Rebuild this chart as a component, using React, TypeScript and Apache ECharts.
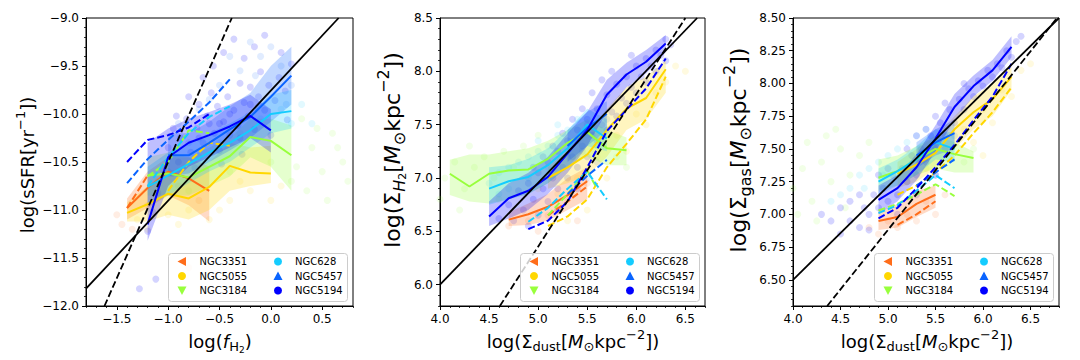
import React, { useEffect, useRef } from "react";
import * as echarts from "echarts";

const FONT = "DejaVu Sans";
const GALAXIES = ["NGC3351", "NGC5055", "NGC3184", "NGC628", "NGC5457", "NGC5194"];
const COLORS = ["#ff6d1a", "#ffd700", "#98ff3c", "#14ccff", "#0a64ff", "#0000ff"];
const MARKERS = ["left", "circle", "down", "circle", "up", "circle"];

// ---------- Panel A : log(sSFR) vs log(f_H2) ----------
const A_X_TICKS = [-1.5, -1.0, -0.5, 0.0, 0.5];
const A_Y_TICKS = [-12.0, -11.5, -11.0, -10.5, -10.0, -9.5, -9.0];

const A_3351_SOLID = [[-1.4, -10.98], [-1.2, -10.77], [-1.0, -10.6], [-0.8, -10.67], [-0.6, -10.8]];
const A_5055_SOLID = [[-1.4, -11.03], [-1.2, -10.94], [-1.0, -10.83], [-0.8, -10.88], [-0.6, -10.76], [-0.4, -10.54], [-0.2, -10.61], [0.0, -10.62]];
const A_3184_SOLID = [[-1.2, -10.64], [-1.0, -10.62], [-0.8, -10.66], [-0.6, -10.55], [-0.4, -10.44], [-0.2, -10.24], [0.0, -10.28], [0.2, -10.43]];
const A_628_SOLID = [[-1.2, -10.76], [-1.0, -10.64], [-0.8, -10.52], [-0.6, -10.4], [-0.4, -10.3], [-0.2, -10.17], [0.0, -10.0], [0.2, -9.97]];
const A_5457_SOLID = [[-1.0, -10.43], [-0.8, -10.43], [-0.6, -10.3], [-0.4, -10.16], [-0.2, -10.03], [0.0, -9.82], [0.2, -9.6]];
const A_5194_SOLID = [[-1.2, -11.15], [-1.0, -10.45], [-0.8, -10.3], [-0.6, -10.22], [-0.4, -10.13], [-0.2, -10.02], [0.0, -10.17]];

const A_3351_DASH = [[-1.4, -10.98], [-1.2, -10.64]];
const A_5055_DASH = [[-1.0, -10.8], [-0.8, -10.5], [-0.6, -10.3], [-0.4, -10.33]];
const A_3184_DASH = [[-1.2, -10.65], [-1.0, -10.5], [-0.8, -10.17], [-0.6, -10.2]];
const A_628_DASH = [[-1.2, -10.75], [-1.0, -10.45], [-0.8, -10.2], [-0.6, -10.03], [-0.4, -9.92]];
const A_5457_DASH = [[-1.4, -10.72], [-1.2, -10.47], [-1.0, -10.27], [-0.8, -10.08], [-0.6, -9.88], [-0.4, -9.64]];
const A_5194_DASH = [[-1.4, -10.5], [-1.2, -10.27], [-1.0, -10.22], [-0.8, -10.14], [-0.6, -10.0]];

// [x, low, high]
const A_3351_BAND = [[-1.4, -11.1, -10.88], [-1.2, -10.98, -10.6], [-1.0, -10.85, -10.45], [-0.8, -10.95, -10.45], [-0.6, -11.12, -10.55]];
const A_5055_BAND = [[-1.4, -11.12, -10.92], [-1.2, -11.12, -10.75], [-1.0, -11.05, -10.6], [-0.8, -11.1, -10.65], [-0.6, -11.0, -10.5], [-0.4, -10.8, -10.3], [-0.2, -10.75, -10.35], [0.0, -10.72, -10.33]];
const A_3184_BAND = [[-1.2, -10.85, -10.45], [-1.0, -10.85, -10.4], [-0.8, -10.85, -10.45], [-0.6, -10.75, -10.35], [-0.4, -10.65, -10.25], [-0.2, -10.45, -10.05], [0.0, -10.55, -10.05], [0.2, -10.8, -10.12]];
const A_628_BAND = [[-1.2, -10.95, -10.55], [-1.0, -10.85, -10.4], [-0.8, -10.72, -10.3], [-0.6, -10.6, -10.2], [-0.4, -10.5, -10.1], [-0.2, -10.35, -9.98], [0.0, -10.2, -9.8], [0.2, -10.15, -9.75]];
const A_5457_BAND = [[-1.0, -10.65, -10.2], [-0.8, -10.62, -10.2], [-0.6, -10.5, -10.08], [-0.4, -10.38, -9.92], [-0.2, -10.25, -9.78], [0.0, -10.08, -9.5], [0.2, -9.9, -9.3]];
const A_5194_BAND = [[-1.2, -11.32, -10.3], [-1.0, -10.75, -10.15], [-0.8, -10.55, -10.05], [-0.6, -10.45, -9.98], [-0.4, -10.35, -9.9], [-0.2, -10.25, -9.8], [0.0, -10.4, -9.95]];

const A_3351_PTS = [[-1.5, -11.05], [-1.35, -11.2], [-1.2, -10.95], [-0.8, -11.6], [-1.45, -11.15], [-1.1, -10.85], [-0.9, -10.75], [-0.7, -10.9]];
const A_5055_PTS = [[-1.3, -11.1], [-1.0, -11.05], [-0.8, -11.0], [-0.6, -11.1], [-0.4, -10.9], [-0.2, -10.8], [0.1, -10.75], [-1.2, -11.2], [-0.9, -11.15], [-0.5, -11.0], [-0.3, -10.7], [0.0, -10.9]];
const A_3184_PTS = [[0.3, -10.05], [0.4, -10.35], [0.5, -10.6], [0.6, -10.2], [0.7, -10.5], [0.35, -10.8], [0.55, -10.9], [0.75, -10.7], [0.25, -10.55], [0.45, -10.15], [0.65, -10.35], [-0.8, -10.8], [-0.4, -10.6], [0.0, -10.5], [0.2, -10.7]];
const A_628_PTS = [[-1.1, -10.7], [-0.9, -10.6], [-0.7, -10.45], [-0.5, -10.3], [-0.3, -10.2], [-0.1, -10.05], [0.1, -9.95], [0.2, -10.1], [0.3, -9.9], [0.4, -10.1]];
const A_5457_PTS = [[-0.9, -10.1], [-0.7, -9.95], [-0.5, -9.7], [-0.3, -9.55], [-0.1, -9.4], [0.1, -9.5], [0.2, -9.7], [-0.4, -9.4], [-0.2, -9.25], [0.0, -9.3], [-0.6, -9.85], [-0.8, -10.3], [-1.0, -10.6], [0.15, -9.9], [-0.15, -9.6]];
const A_5194_PTS = [[-1.0, -10.35], [-0.95, -10.15], [-0.9, -10.5], [-0.88, -10.25], [-0.82, -10.05], [-0.78, -10.4], [-0.72, -10.15], [-0.7, -9.9], [-0.66, -10.3], [-0.62, -10.02], [-0.58, -9.78], [-0.55, -10.2], [-0.52, -9.92], [-0.5, -10.38], [-0.46, -10.08], [-0.42, -9.82], [-0.4, -10.22], [-0.36, -9.96], [-0.32, -10.12], [-0.3, -9.68], [-0.26, -9.88], [-0.22, -10.02], [-0.2, -9.72], [-0.16, -10.16], [-0.12, -9.82], [-0.1, -9.56], [-0.06, -9.96], [-0.02, -9.7], [0.04, -9.86], [0.08, -9.62], [0.14, -9.76], [0.2, -9.48], [-0.56, -9.5], [-0.46, -9.36], [-0.36, -9.22], [-0.26, -9.42], [-0.16, -9.3], [-0.06, -9.18], [0.1, -9.36], [-0.66, -9.62], [-0.8, -9.82], [-0.92, -10.02], [-1.05, -10.58], [-1.1, -10.82], [-1.15, -11.02], [-1.2, -11.22], [-0.96, -10.62], [-0.74, -10.56], [-0.48, -10.52], [-0.28, -10.42], [0.0, -10.22], [0.16, -10.06], [-1.28, -11.82], [-1.12, -11.72], [-0.6, -10.1], [-0.4, -10.0], [-0.2, -9.9], [-0.7, -10.25], [-0.5, -10.1], [-0.3, -10.25]];

const A_FIT_SOLID = [[-1.8, -11.82], [0.66, -9.0]];
const A_FIT_DASH = [[-1.62, -12.0], [-0.38, -9.0]];

// ---------- Panel B : log(Sigma_H2) vs log(Sigma_dust) ----------
const B_X_TICKS = [4.0, 4.5, 5.0, 5.5, 6.0, 6.5];
const B_Y_TICKS = [6.0, 6.5, 7.0, 7.5, 8.0, 8.5];

const B_3351_SOLID = [[4.7, 6.61], [4.9, 6.66], [5.1, 6.73], [5.3, 6.84], [5.5, 6.97]];
const B_5055_SOLID = [[5.1, 7.0], [5.3, 7.1], [5.5, 7.22], [5.7, 7.45], [5.9, 7.65], [6.1, 7.75], [6.3, 8.02]];
const B_3184_SOLID = [[4.1, 7.04], [4.3, 6.92], [4.5, 7.04], [4.7, 7.07], [4.9, 7.08], [5.1, 7.18], [5.3, 7.33], [5.5, 7.43], [5.7, 7.28], [5.9, 7.26]];
const B_628_SOLID = [[4.5, 6.9], [4.7, 6.97], [4.9, 7.01], [5.1, 7.12], [5.3, 7.28], [5.5, 7.5], [5.7, 7.37]];
const B_5457_SOLID = [[5.3, 7.3], [5.5, 7.47], [5.7, 7.6]];
const B_5194_SOLID = [[4.5, 6.64], [4.7, 6.81], [4.9, 6.88], [5.1, 7.01], [5.3, 7.23], [5.5, 7.45], [5.7, 7.78], [5.9, 7.97], [6.1, 8.09], [6.3, 8.26]];

const B_3351_DASH = [[5.1, 6.65], [5.3, 6.78], [5.5, 6.92]];
const B_5055_DASH = [[5.1, 6.55], [5.3, 6.64], [5.5, 6.8], [5.7, 7.1], [5.9, 7.32], [6.1, 7.55], [6.3, 7.95]];
const B_3184_DASH = [[5.1, 6.65], [5.3, 6.85], [5.5, 7.07], [5.6, 6.9]];
const B_628_DASH = [[4.9, 6.59], [5.1, 6.72], [5.3, 6.9], [5.5, 7.06], [5.7, 6.8]];
const B_5457_DASH = [[5.3, 6.85], [5.5, 7.02], [5.7, 7.17]];
const B_5194_DASH = [[4.9, 6.52], [5.1, 6.6], [5.3, 6.78], [5.5, 7.1], [5.7, 7.44], [5.9, 7.64], [6.1, 7.84], [6.3, 8.12]];

const B_3351_BAND = [[4.7, 6.55, 6.68], [4.9, 6.56, 6.76], [5.1, 6.6, 6.85], [5.3, 6.7, 7.0], [5.5, 6.8, 7.1]];
const B_5055_BAND = [[5.1, 6.9, 7.1], [5.3, 6.95, 7.25], [5.5, 7.02, 7.42], [5.7, 7.2, 7.65], [5.9, 7.45, 7.85], [6.1, 7.55, 7.95], [6.3, 7.8, 8.1]];
const B_3184_BAND = [[4.1, 6.84, 7.17], [4.3, 6.78, 7.22], [4.5, 6.76, 7.22], [4.7, 6.8, 7.25], [4.9, 6.85, 7.28], [5.1, 6.95, 7.35], [5.3, 7.1, 7.45], [5.5, 7.2, 7.55], [5.7, 7.12, 7.45], [5.9, 7.12, 7.38]];
const B_628_BAND = [[4.5, 6.75, 7.1], [4.7, 6.8, 7.12], [4.9, 6.85, 7.18], [5.1, 6.95, 7.28], [5.3, 7.1, 7.45], [5.5, 7.3, 7.65], [5.7, 7.25, 7.55]];
const B_5457_BAND = [[5.3, 7.15, 7.45], [5.5, 7.3, 7.62], [5.7, 7.45, 7.72]];
const B_5194_BAND = [[4.5, 6.55, 6.78], [4.7, 6.62, 6.95], [4.9, 6.7, 7.05], [5.1, 6.85, 7.2], [5.3, 7.05, 7.42], [5.5, 7.3, 7.62], [5.7, 7.62, 7.92], [5.9, 7.85, 8.08], [6.1, 7.98, 8.2], [6.3, 8.18, 8.34]];

const B_3351_PTS = [[4.7, 6.55], [4.9, 6.6], [5.1, 6.65], [5.3, 6.8], [5.5, 6.95], [5.0, 6.5], [5.2, 6.7], [5.4, 6.6]];
const B_5055_PTS = [[5.0, 6.9], [5.2, 6.85], [5.4, 7.0], [5.6, 7.2], [5.8, 7.4], [6.0, 7.6], [6.2, 7.8], [6.3, 7.9], [5.7, 7.0], [5.9, 7.25], [6.1, 7.5], [6.4, 8.05], [5.5, 6.7], [6.5, 8.0], [5.3, 6.6]];
const B_3184_PTS = [[4.05, 7.0], [4.15, 7.15], [4.25, 6.9], [4.35, 7.1], [4.45, 7.2], [4.55, 7.0], [4.65, 7.25], [4.75, 7.1], [4.85, 7.3], [4.0, 6.8], [4.3, 7.3], [4.6, 6.8], [5.0, 7.4], [5.6, 7.3], [5.8, 7.2], [4.2, 6.7], [5.9, 7.1]];
const B_628_PTS = [[4.5, 6.95], [4.6, 7.05], [4.7, 7.1], [4.8, 7.15], [4.9, 7.2], [5.0, 7.25], [5.1, 7.3], [5.2, 7.4], [5.3, 7.45], [5.4, 7.55], [4.7, 6.9], [4.9, 7.0], [5.1, 7.1], [5.3, 7.25], [5.5, 7.4], [4.6, 6.85], [5.0, 7.35], [5.2, 7.5]];
const B_5457_PTS = [[5.3, 7.2], [5.4, 7.35], [5.5, 7.5], [5.6, 7.4], [5.7, 7.55], [5.5, 7.0], [5.6, 7.15], [5.45, 7.25]];
const B_5194_PTS = [[4.6, 6.62], [4.7, 6.75], [4.75, 6.6], [4.8, 6.88], [4.85, 6.7], [4.9, 6.95], [4.95, 6.8], [5.0, 7.05], [5.0, 6.65], [5.05, 6.9], [5.1, 7.15], [5.1, 6.78], [5.15, 7.0], [5.2, 7.25], [5.2, 6.9], [5.25, 7.1], [5.3, 7.35], [5.3, 7.0], [5.35, 7.2], [5.4, 7.45], [5.4, 7.1], [5.45, 7.3], [5.5, 7.55], [5.5, 7.2], [5.55, 7.4], [5.6, 7.65], [5.6, 7.35], [5.65, 7.5], [5.7, 7.78], [5.7, 7.45], [5.75, 7.62], [5.8, 7.88], [5.8, 7.58], [5.85, 7.75], [5.9, 7.95], [5.9, 7.7], [5.95, 7.85], [6.0, 8.05], [6.0, 7.8], [6.05, 7.95], [6.1, 8.12], [6.1, 7.9], [6.15, 8.05], [6.2, 8.2], [6.2, 8.0], [6.25, 8.15], [6.3, 8.3], [6.3, 8.1], [5.45, 7.65], [5.55, 7.8], [5.65, 7.92], [5.35, 7.55], [5.25, 7.42], [5.15, 7.3], [5.05, 7.2], [4.95, 7.1], [5.75, 8.0], [5.95, 8.15], [6.35, 8.25], [4.9, 6.55], [5.2, 6.7], [5.4, 6.9]];

const B_FIT_SOLID = [[4.0, 6.0], [6.62, 8.5]];
const B_FIT_DASH = [[4.61, 5.8], [6.5, 8.5]];

// ---------- Panel C : log(Sigma_gas) vs log(Sigma_dust) ----------
const C_X_TICKS = [4.0, 4.5, 5.0, 5.5, 6.0, 6.5];
const C_Y_TICKS = [6.5, 6.75, 7.0, 7.25, 7.5, 7.75, 8.0, 8.25, 8.5];

const C_3351_SOLID = [[4.9, 6.95], [5.1, 6.98], [5.3, 7.08], [5.5, 7.15]];
const C_5055_SOLID = [[5.1, 7.31], [5.3, 7.38], [5.5, 7.47], [5.7, 7.65], [5.9, 7.78], [6.1, 7.88], [6.3, 8.05]];
const C_3184_SOLID = [[4.9, 7.28], [5.1, 7.33], [5.3, 7.42], [5.5, 7.5], [5.7, 7.46], [5.9, 7.43]];
const C_628_SOLID = [[4.9, 7.25], [5.1, 7.33], [5.3, 7.42], [5.5, 7.55], [5.7, 7.5]];
const C_5457_SOLID = [[5.3, 7.45], [5.5, 7.55], [5.7, 7.62]];
const C_5194_SOLID = [[4.9, 7.11], [5.1, 7.2], [5.3, 7.36], [5.5, 7.58], [5.7, 7.82], [5.9, 7.98], [6.1, 8.1], [6.3, 8.28]];

const C_3351_DASH = [[5.1, 6.92], [5.3, 7.0], [5.5, 7.1]];
const C_5055_DASH = [[5.1, 7.15], [5.3, 7.22], [5.5, 7.32], [5.7, 7.45], [5.9, 7.62], [6.1, 7.78], [6.3, 7.97]];
const C_3184_DASH = [[4.9, 7.03], [5.1, 7.08], [5.3, 7.15], [5.5, 7.23], [5.7, 7.14]];
const C_628_DASH = [[4.9, 7.01], [5.1, 7.07], [5.3, 7.18], [5.5, 7.3], [5.7, 7.2]];
const C_5457_DASH = [[5.3, 7.22], [5.5, 7.32], [5.7, 7.42]];
const C_5194_DASH = [[4.9, 6.97], [5.1, 7.05], [5.3, 7.2], [5.5, 7.36], [5.7, 7.53], [5.9, 7.72], [6.1, 7.9], [6.3, 8.15]];

const C_3351_BAND = [[4.9, 6.88, 7.02], [5.1, 6.9, 7.08], [5.3, 6.98, 7.18], [5.5, 7.05, 7.22]];
const C_5055_BAND = [[5.1, 7.2, 7.4], [5.3, 7.25, 7.5], [5.5, 7.35, 7.6], [5.7, 7.5, 7.75], [5.9, 7.65, 7.9], [6.1, 7.75, 8.0], [6.3, 7.95, 8.15]];
const C_3184_BAND = [[4.9, 7.18, 7.42], [5.1, 7.22, 7.45], [5.3, 7.3, 7.52], [5.5, 7.35, 7.6], [5.7, 7.32, 7.55], [5.9, 7.32, 7.48]];
const C_628_BAND = [[4.9, 7.15, 7.35], [5.1, 7.22, 7.42], [5.3, 7.3, 7.52], [5.5, 7.42, 7.65], [5.7, 7.4, 7.62]];
const C_5457_BAND = [[5.3, 7.35, 7.55], [5.5, 7.45, 7.65], [5.7, 7.5, 7.72]];
const C_5194_BAND = [[4.9, 7.0, 7.22], [5.1, 7.1, 7.3], [5.3, 7.26, 7.46], [5.5, 7.48, 7.68], [5.7, 7.72, 7.92], [5.9, 7.9, 8.06], [6.1, 8.02, 8.18], [6.3, 8.2, 8.36]];

const C_3351_PTS = [[4.8, 6.9], [5.0, 6.95], [5.2, 7.0], [5.4, 7.1], [5.6, 7.15], [4.9, 6.85], [5.1, 6.9], [5.3, 6.95], [5.5, 7.0]];
const C_5055_PTS = [[5.2, 7.25], [5.4, 7.35], [5.6, 7.5], [5.8, 7.65], [6.0, 7.8], [6.2, 7.95], [6.4, 8.1], [5.9, 7.55], [6.1, 7.7], [6.3, 7.9], [6.5, 8.15], [6.0, 7.45]];
const C_3184_PTS = [[4.0, 7.2], [4.1, 7.35], [4.2, 7.1], [4.3, 7.4], [4.4, 7.25], [4.5, 7.5], [4.6, 7.3], [4.7, 7.45], [4.15, 7.55], [4.35, 7.6], [4.05, 7.0], [4.25, 6.95], [4.45, 7.65], [4.55, 7.05], [4.8, 7.55], [5.8, 7.4], [5.9, 7.5]];
const C_628_PTS = [[4.6, 7.2], [4.7, 7.3], [4.8, 7.35], [4.9, 7.4], [5.0, 7.45], [5.1, 7.5], [5.2, 7.55], [5.3, 7.6], [4.5, 7.15], [4.4, 7.1], [5.4, 7.65], [4.75, 7.2], [4.95, 7.3]];
const C_5457_PTS = [[5.3, 7.35], [5.4, 7.45], [5.5, 7.55], [5.6, 7.5], [5.7, 7.6], [5.5, 7.3]];
const C_5194_PTS = [[4.5, 6.85], [4.6, 6.95], [4.7, 6.9], [4.75, 7.05], [4.8, 7.0], [4.85, 7.15], [4.9, 7.05], [4.95, 7.2], [5.0, 7.1], [5.05, 7.3], [5.1, 7.15], [5.15, 7.35], [5.2, 7.25], [5.25, 7.45], [5.3, 7.3], [5.35, 7.5], [5.4, 7.4], [5.45, 7.6], [5.5, 7.5], [5.55, 7.7], [5.6, 7.6], [5.65, 7.8], [5.7, 7.7], [5.75, 7.88], [5.8, 7.8], [5.85, 7.96], [5.9, 7.9], [5.95, 8.02], [6.0, 7.98], [6.05, 8.1], [6.1, 8.05], [6.15, 8.15], [6.2, 8.12], [6.25, 8.25], [6.3, 8.2], [6.35, 8.32], [6.4, 8.36], [5.0, 7.35], [5.2, 7.5], [5.4, 7.65], [5.6, 7.85], [5.8, 8.0], [5.3, 7.6], [5.5, 7.75], [4.9, 7.3], [4.7, 7.15], [4.6, 7.1], [4.4, 6.95], [4.8, 6.88], [5.1, 7.0], [5.3, 7.15], [5.5, 7.3], [4.5, 7.05], [4.3, 7.0]];

const C_FIT_SOLID = [[4.0, 6.5], [6.8, 8.5]];
const C_FIT_DASH = [[4.36, 6.3], [6.78, 8.5]];

// ---------- layout ----------
const PANELS = [
  {
    grid: { left: 86, top: 18, width: 267, height: 288 },
    x: [-1.8, 0.8], y: [-12.0, -9.0], xStep: 0.1, yStep: 0.1, xDec: 1, yDec: 1,
    xTicks: A_X_TICKS, yTicks: A_Y_TICKS,
    solid: [A_3351_SOLID, A_5055_SOLID, A_3184_SOLID, A_628_SOLID, A_5457_SOLID, A_5194_SOLID],
    dash: [A_3351_DASH, A_5055_DASH, A_3184_DASH, A_628_DASH, A_5457_DASH, A_5194_DASH],
    band: [A_3351_BAND, A_5055_BAND, A_3184_BAND, A_628_BAND, A_5457_BAND, A_5194_BAND],
    pts: [A_3351_PTS, A_5055_PTS, A_3184_PTS, A_628_PTS, A_5457_PTS, A_5194_PTS],
    fitSolid: A_FIT_SOLID, fitDash: A_FIT_DASH,
  },
  {
    grid: { left: 440, top: 18, width: 265, height: 288 },
    x: [4.0, 6.7], y: [5.8, 8.5], xStep: 0.1, yStep: 0.1, xDec: 1, yDec: 1,
    xTicks: B_X_TICKS, yTicks: B_Y_TICKS,
    solid: [B_3351_SOLID, B_5055_SOLID, B_3184_SOLID, B_628_SOLID, B_5457_SOLID, B_5194_SOLID],
    dash: [B_3351_DASH, B_5055_DASH, B_3184_DASH, B_628_DASH, B_5457_DASH, B_5194_DASH],
    band: [B_3351_BAND, B_5055_BAND, B_3184_BAND, B_628_BAND, B_5457_BAND, B_5194_BAND],
    pts: [B_3351_PTS, B_5055_PTS, B_3184_PTS, B_628_PTS, B_5457_PTS, B_5194_PTS],
    fitSolid: B_FIT_SOLID, fitDash: B_FIT_DASH,
  },
  {
    grid: { left: 793, top: 18, width: 266, height: 288 },
    x: [4.0, 6.8], y: [6.3, 8.5], xStep: 0.1, yStep: 0.05, xDec: 1, yDec: 2,
    xTicks: C_X_TICKS, yTicks: C_Y_TICKS,
    solid: [C_3351_SOLID, C_5055_SOLID, C_3184_SOLID, C_628_SOLID, C_5457_SOLID, C_5194_SOLID],
    dash: [C_3351_DASH, C_5055_DASH, C_3184_DASH, C_628_DASH, C_5457_DASH, C_5194_DASH],
    band: [C_3351_BAND, C_5055_BAND, C_3184_BAND, C_628_BAND, C_5457_BAND, C_5194_BAND],
    pts: [C_3351_PTS, C_5055_PTS, C_3184_PTS, C_628_PTS, C_5457_PTS, C_5194_PTS],
    fitSolid: C_FIT_SOLID, fitDash: C_FIT_DASH,
  },
];

function fmt(dec: number) {
  return (v: number) => (v < -1e-9 ? "\u2212" : "") + Math.abs(v).toFixed(dec);
}

function steps(min: number, max: number, step: number) {
  const out: number[] = [];
  const n = Math.round((max - min) / step);
  for (let i = 0; i <= n; i++) out.push(+(min + i * step).toFixed(4));
  return out;
}

function mainAxis(dim: "x" | "y", g: number, range: number[], ticks: number[], dec: number) {
  return {
    type: "value",
    gridIndex: g,
    min: range[0],
    max: range[1],
    position: dim === "x" ? "bottom" : "left",
    axisLine: { show: true, onZero: false, lineStyle: { color: "#000", width: 1 } },
    axisTick: { show: true, inside: false, length: 4, lineStyle: { color: "#000", width: 1 }, customValues: ticks },
    axisLabel: {
      show: true, customValues: ticks, formatter: fmt(dec), color: "#000",
      fontSize: 12, fontFamily: FONT, margin: 7, showMinLabel: true, showMaxLabel: true,
    },
    splitLine: { show: false },
  };
}

function minorAxis(dim: "x" | "y", g: number, range: number[], step: number) {
  return {
    type: "value",
    gridIndex: g,
    min: range[0],
    max: range[1],
    position: dim === "x" ? "bottom" : "left",
    axisLine: { show: false, onZero: false },
    axisTick: { show: true, inside: false, length: 2, lineStyle: { color: "#000", width: 0.8 }, customValues: steps(range[0], range[1], step) },
    axisLabel: { show: false },
    splitLine: { show: false },
  };
}

function bandSeries(g: number, data: number[][], color: string) {
  return {
    type: "custom",
    xAxisIndex: 2 * g,
    yAxisIndex: 2 * g,
    data,
    silent: true,
    z: 3,
    encode: { x: 0, y: [1, 2] },
    renderItem: (params: any, api: any) => {
      if (params.dataIndexInside !== 0) return null;
      const n = params.dataInsideLength;
      const top: number[][] = [];
      const bot: number[][] = [];
      for (let i = 0; i < n; i++) {
        const x = api.value(0, i);
        top.push(api.coord([x, api.value(2, i)]));
        bot.push(api.coord([x, api.value(1, i)]));
      }
      return {
        type: "polygon",
        shape: { points: top.concat(bot.reverse()) },
        style: { fill: echarts.color.modifyAlpha(color, 0.25), stroke: "none" },
      };
    },
  };
}

function lineSeries(g: number, data: number[][], color: string, dashed: boolean, width: number, z: number) {
  return {
    type: "line",
    xAxisIndex: 2 * g,
    yAxisIndex: 2 * g,
    data,
    symbol: "none",
    silent: true,
    clip: true,
    z,
    lineStyle: { color, width, type: dashed ? [7, 3] : "solid", cap: "butt" },
  };
}

function makeRich(fs: number): any {
  const sub = Math.round(fs * 0.72);
  return {
    n: { fontFamily: FONT, fontSize: fs, fill: "#000", verticalAlign: "middle" },
    i: { fontFamily: FONT, fontSize: fs, fontStyle: "italic", fill: "#000", verticalAlign: "middle" },
    sb: { fontFamily: FONT, fontSize: sub, fill: "#000", padding: [Math.round(fs * 0.62), 0, 0, 0], verticalAlign: "middle" },
    sbi: { fontFamily: FONT, fontSize: sub, fontStyle: "italic", fill: "#000", padding: [Math.round(fs * 0.62), 0, 0, 0], verticalAlign: "middle" },
    sb2: { fontFamily: FONT, fontSize: Math.round(fs * 0.5), fill: "#000", padding: [Math.round(fs * 0.95), 0, 0, 0], verticalAlign: "middle" },
    sp: { fontFamily: FONT, fontSize: sub, fill: "#000", padding: [0, 0, Math.round(fs * 0.75), 0], verticalAlign: "middle" },
  };
}

const UNIT = "{n|[}{i|M}{sb|\u2299}{n|kpc}{sp|\u22122}{n|])}";
const LABELS = [
  { x: 220, y: 341, rot: 0, fs: 18, text: "{n|log(}{i|f}{sb|H}{sb2|2}{n|)}" },
  { x: 27, y: 165, rot: Math.PI / 2, fs: 18, text: "{n|log(sSFR[yr}{sp|\u22121}{n|])}" },
  { x: 573, y: 341, rot: 0, fs: 18, text: "{n|log(\u03a3}{sb|dust}" + UNIT },
  { x: 392, y: 150, rot: Math.PI / 2, fs: 22, text: "{n|log(\u03a3}{sbi|H}{sb2|2}" + UNIT },
  { x: 927, y: 341, rot: 0, fs: 18, text: "{n|log(\u03a3}{sb|dust}" + UNIT },
  { x: 738, y: 150, rot: Math.PI / 2, fs: 22, text: "{n|log(\u03a3}{sb|gas}" + UNIT },
];

function marker(kind: string, cx: number, cy: number, color: string) {
  const s = 4.5;
  if (kind === "circle") {
    return { type: "circle", shape: { cx, cy, r: 4 }, style: { fill: color }, z: 101 };
  }
  let pts: number[][] = [];
  if (kind === "left") pts = [[cx - s, cy], [cx + s - 0.5, cy - s], [cx + s - 0.5, cy + s]];
  if (kind === "down") pts = [[cx - s, cy - s + 0.5], [cx + s, cy - s + 0.5], [cx, cy + s]];
  if (kind === "up") pts = [[cx - s, cy + s - 0.5], [cx + s, cy + s - 0.5], [cx, cy - s]];
  return { type: "polygon", shape: { points: pts }, style: { fill: color }, z: 101 };
}

function legendGraphics(boxLeft: number) {
  const els: any[] = [
    {
      type: "rect",
      shape: { x: boxLeft + 0.5, y: 253.5, width: 179, height: 48, r: 3 },
      style: { fill: "rgba(255,255,255,0.8)", stroke: "#cccccc", lineWidth: 1 },
      z: 100,
    },
  ];
  GALAXIES.forEach((name, k) => {
    const col = Math.floor(k / 3);
    const row = k % 3;
    const cy = 261.5 + row * 14.5;
    els.push(marker(MARKERS[k], boxLeft + (col ? 110 : 14), cy, COLORS[k]));
    els.push({
      type: "text",
      x: boxLeft + (col ? 127 : 31.5),
      y: cy,
      z: 101,
      style: { text: name, fill: "#000", fontSize: 10, fontFamily: FONT, verticalAlign: "middle", textVerticalAlign: "middle" },
    });
  });
  return els;
}

export default function App() {
  const ref = useRef<HTMLDivElement>(null);
  useEffect(() => {
    if (!ref.current) return;
    const chart = echarts.init(ref.current, undefined, { renderer: "svg" });

    const grids: any[] = [];
    const xAxes: any[] = [];
    const yAxes: any[] = [];
    const series: any[] = [];

    PANELS.forEach((p, g) => {
      grids.push({ ...p.grid, show: true, borderColor: "#000", borderWidth: 1, backgroundColor: "transparent", containLabel: false });
      xAxes.push(mainAxis("x", g, p.x, p.xTicks, p.xDec));
      xAxes.push(minorAxis("x", g, p.x, p.xStep));
      yAxes.push(mainAxis("y", g, p.y, p.yTicks, p.yDec));
      yAxes.push(minorAxis("y", g, p.y, p.yStep));

      GALAXIES.forEach((name, k) => {
        series.push({
          type: "scatter",
          name,
          xAxisIndex: 2 * g,
          yAxisIndex: 2 * g,
          data: p.pts[k],
          symbol: "circle",
          symbolSize: 7,
          silent: true,
          z: 1,
          itemStyle: { color: COLORS[k], opacity: k === 5 ? 0.17 : 0.12 },
        });
      });
      GALAXIES.forEach((name, k) => series.push(bandSeries(g, p.band[k], COLORS[k])));
      GALAXIES.forEach((name, k) => {
        series.push(lineSeries(g, p.solid[k], COLORS[k], false, 2, 4));
        series.push(lineSeries(g, p.dash[k], COLORS[k], true, 2, 4));
      });
      series.push(lineSeries(g, p.fitSolid, "#000", false, 1.8, 6));
      series.push(lineSeries(g, p.fitDash, "#000", true, 1.8, 6));
    });

    const graphics: any[] = [];
    LABELS.forEach((l) => {
      graphics.push({
        type: "text",
        x: l.x,
        y: l.y,
        rotation: l.rot,
        z: 50,
        style: { text: l.text, rich: makeRich(l.fs), align: "center", verticalAlign: "middle", textAlign: "center", textVerticalAlign: "middle" },
      });
    });
    PANELS.forEach((p) => {
      const boxLeft = p.grid.left + p.grid.width - 6 - 179;
      legendGraphics(boxLeft).forEach((e) => graphics.push(e));
    });

    chart.setOption({
      animation: false,
      backgroundColor: "#fff",
      grid: grids,
      xAxis: xAxes,
      yAxis: yAxes,
      series,
      graphic: { elements: graphics },
    });
    return () => chart.dispose();
  }, []);

  return <div ref={ref} style={{ position: "fixed", left: 0, top: 0, width: 1080, height: 360 }} />;
}
